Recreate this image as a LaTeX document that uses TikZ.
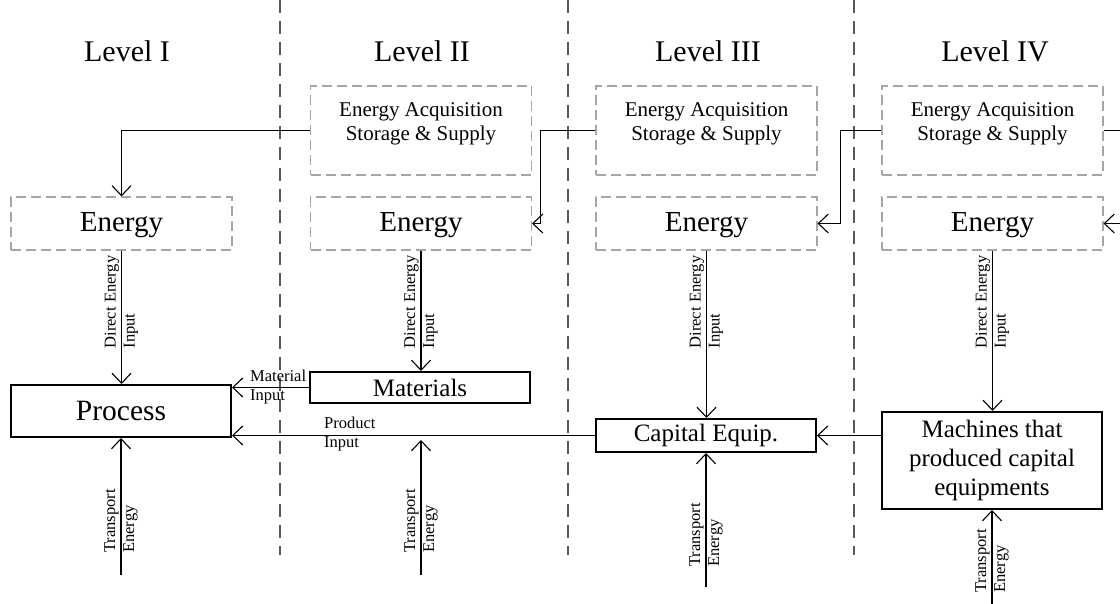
\documentclass[tikz,border=0pt]{standalone}
\usepackage{fontspec}
\setmainfont{Liberation Serif}
\usetikzlibrary{arrows.meta,calc}
\begin{document}
\begin{tikzpicture}[x=1pt,y=-1pt,
  sepline/.style={draw=black!65, line width=1.8pt, dash pattern=on 13pt off 8pt},
  dbox/.style={draw=black!35, line width=1.1pt, dash pattern=on 10pt off 5pt,
    minimum width=221pt, inner sep=0pt},
  sbox/.style={draw, line width=2pt, minimum width=220pt, inner sep=0pt, align=center},
  arr/.style={line width=1.1pt, -{Straight Barb[length=10pt,width=19pt,line width=1.1pt]}},
  plain/.style={line width=1.1pt},
  title/.style={font=\fontsize{30}{36}\selectfont},
  entxt/.style={font=\fontsize{29}{34}\selectfont},
  eatxt/.style={font=\fontsize{21}{24}\selectfont, align=center, inner sep=0pt},
  small/.style={font=\fontsize{16.5}{19}\selectfont, align=left, inner sep=2pt},
  vlab/.style={small, rotate=90, anchor=west},
  hlab/.style={small, anchor=west}
]
\useasboundingbox (0,0) rectangle (1120,604);

% column separators
\foreach \x/\n in {280/s1,568/s2,854/s3}
  \draw[sepline] (\x,0) coordinate (\n a) -- (\x,555) coordinate (\n b);

% level headings
\node[title] (lv1) at (127,51) {Level I};
\node[title] (lv2) at (422,51) {Level II};
\node[title] (lv3) at (708,51) {Level III};
\node[title] (lv4) at (995,51) {Level IV};

% energy acquisition, storage and supply
\node[dbox, minimum height=89pt] (ea2) at (421,130.5) {};
\node[dbox, minimum height=89pt] (ea3) at (706.5,130.5) {};
\node[dbox, minimum height=89pt] (ea4) at (992.5,130.5) {};
\foreach \k in {2,3,4}
  \node[eatxt, anchor=north] (ea\k t) at ($(ea\k.north)+(0,17)$) {Energy Acquisition\\Storage \& Supply};

% energy boxes
\node[dbox, minimum height=53pt, entxt] (en1) at (121.5,223.5) {};
\node[dbox, minimum height=53pt, entxt] (en2) at (421,223.5) {};
\node[dbox, minimum height=53pt, entxt] (en3) at (706.5,223.5) {};
\node[dbox, minimum height=53pt, entxt] (en4) at (992.5,223.5) {};
\foreach \k in {1,2,3,4}
  \node[entxt, inner sep=0pt] (en\k t) at ($(en\k.center)+(0,1.5)$) {Energy};

% solid boxes
\node[sbox, minimum height=52pt, font=\fontsize{29.5}{34}\selectfont] (proc) at (121,411) {Process};
\node[sbox, minimum height=31pt, font=\fontsize{25}{29}\selectfont] (mat) at (420,387.5) {Materials};
\node[sbox, minimum height=33pt, font=\fontsize{25}{29}\selectfont] (cap) at (706,435.5) {Capital Equip.};
\node[sbox, minimum height=97pt, font=\fontsize{25}{29}\selectfont] (mach) at (992,460.5)
  {Machines that\\produced capital\\equipments};

% supply links between levels
\coordinate (r1) at (1120,130.5);
\coordinate (r2) at (1120,223.5);
\draw[arr] (ea2.west) -| (en1.north);
\draw[arr] (ea3.west) -- ++(-55,0) |- (en2.east);
\draw[arr] (ea4.west) -- ++(-41,0) |- (en3.east);
\draw[plain] (ea4.east) -- (r1);
\draw[arr] (r2) -- (en4.east);

% direct energy inputs
\draw[arr] (en1.south) -- (en1.south |- proc.north);
\draw[arr] (en2.south) -- (en2.south |- mat.north);
\draw[arr] (en3.south) -- (en3.south |- cap.north);
\draw[arr] (en4.south) -- (en4.south |- mach.north);
\node[vlab] (dl1) at ($(en1.south)+(0,100)$) {Direct Energy\\Input};
\node[vlab] (dl2) at ($(en2.south)+(0,100)$) {Direct Energy\\Input};
\node[vlab] (dl3) at ($(en3.south)+(0,100)$) {Direct Energy\\Input};
\node[vlab] (dl4) at ($(en4.south)+(0,100)$) {Direct Energy\\Input};

% material and product flows
\draw[arr] (mat.west) -- (mat.west -| proc.east);
\node[hlab] (ml) at (248,387.5) {Material\\Input};
\draw[arr] (cap.west) -- (cap.west -| proc.east);
\node[hlab] (pl) at (322,434.5) {Product\\Input};
\draw[arr] (cap.east -| mach.west) -- (cap.east);

% transport energy
\coordinate (t1) at (121,575);
\coordinate (t2) at (421,575);
\coordinate (t2e) at (421,440);
\coordinate (t3) at (706,587);
\coordinate (t4) at (992,604);
\draw[arr] (t1) -- (t1 |- proc.south);
\draw[arr] (t2) -- (t2e);
\draw[arr] (t3) -- (t3 |- cap.south);
\draw[arr] (t4) -- (t4 |- mach.south);
\node[vlab] (tl1) at (121,555) {Transport\\Energy};
\node[vlab] (tl2) at (421,555) {Transport\\Energy};
\node[vlab] (tl3) at (706,569) {Transport\\Energy};
\node[vlab] (tl4) at (992,595) {Transport\\Energy};
\end{tikzpicture}
\end{document}
